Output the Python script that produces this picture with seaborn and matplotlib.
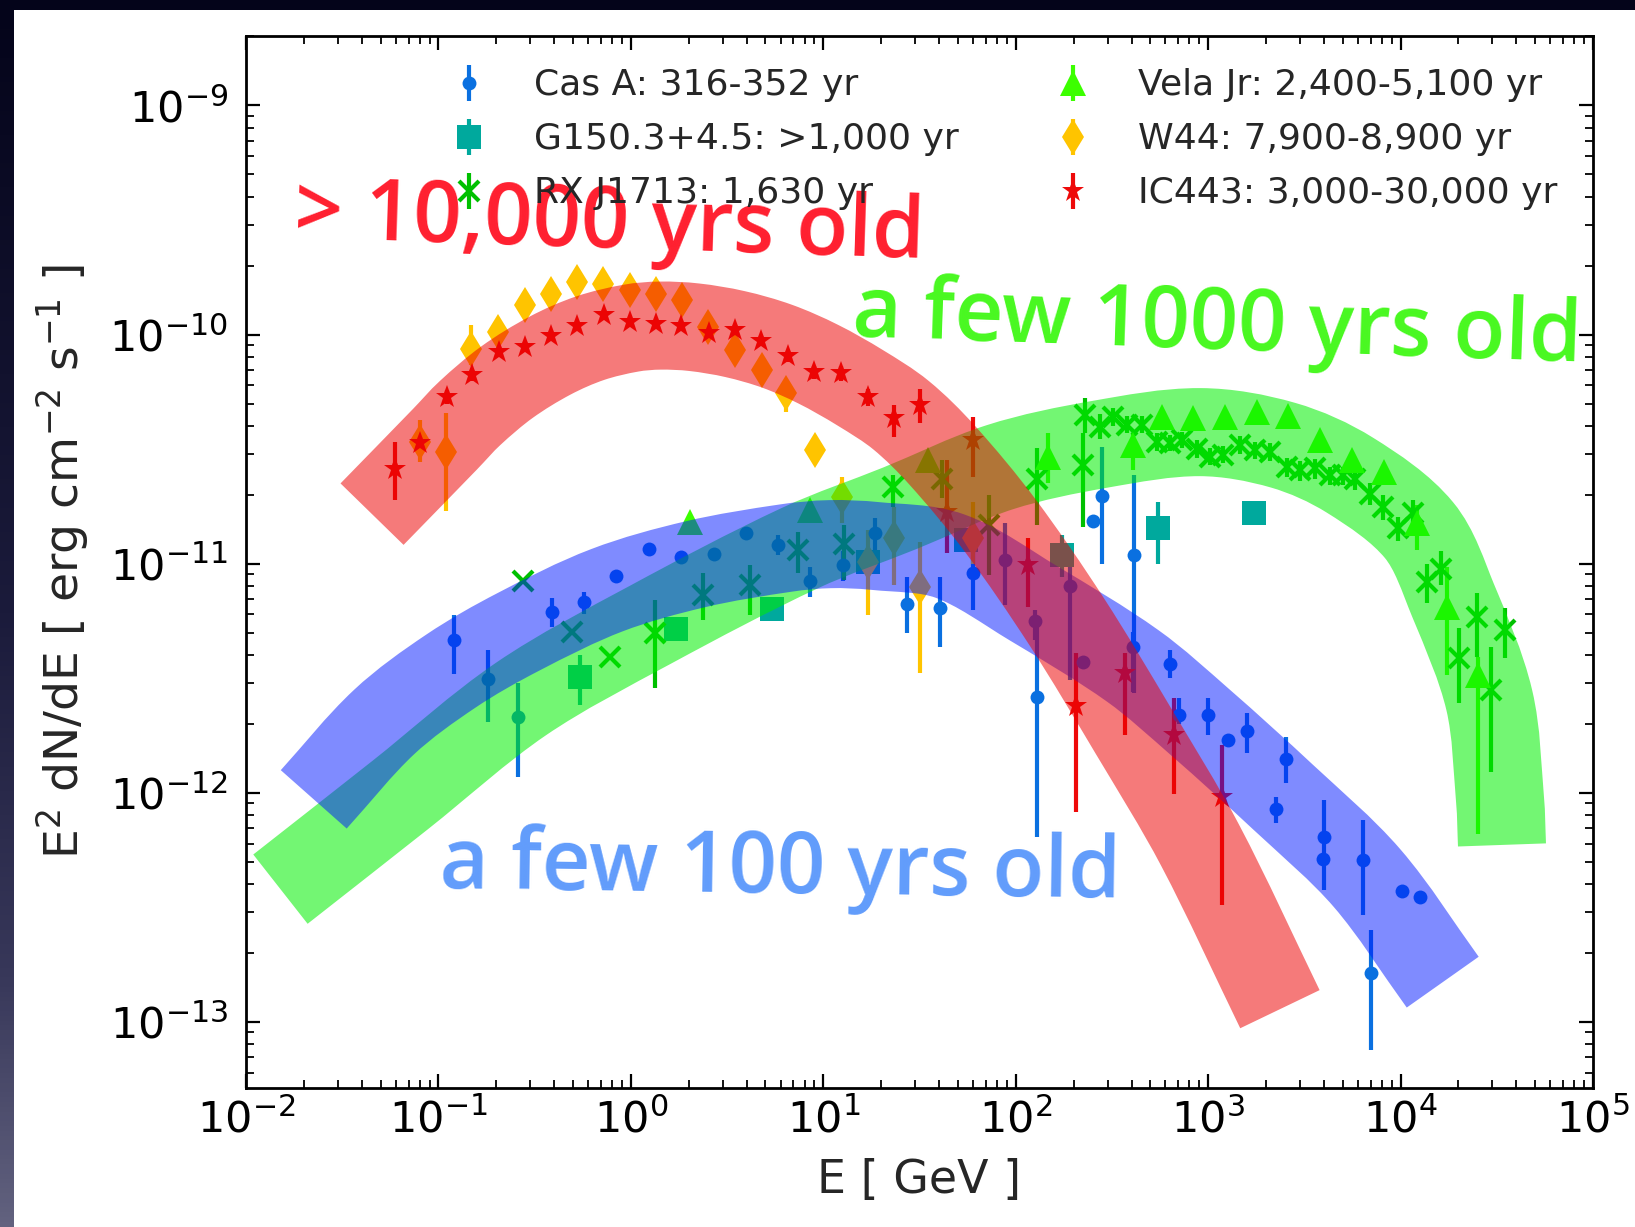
import numpy as np
import matplotlib
matplotlib.use("Agg")
import matplotlib.pyplot as plt
import seaborn as sns
from matplotlib.colors import LinearSegmentedColormap
from matplotlib.patches import Rectangle, PathPatch
from matplotlib.path import Path
from matplotlib.ticker import LogLocator, NullFormatter, FixedLocator

# ---------------- gamma-ray SEDs (E in GeV, E^2 dN/dE in erg cm^-2 s^-1) ----------------
casa_E = [0.120, 0.180, 0.259, 0.388, 0.570, 0.838, 1.24, 1.82, 2.72, 3.98,
          5.82, 8.57, 12.7, 18.6, 27.3, 40.3, 59.7, 88.0, 126, 129,
          191, 224, 251, 281, 408, 413, 634, 708, 1002, 1264,
          1585, 2249, 2528, 3972, 3999, 6350, 6998, 10140, 12620]
casa_F = [4.63e-12, 3.13e-12, 2.13e-12, 6.12e-12, 6.78e-12, 8.81e-12, 1.16e-11, 1.07e-11, 1.10e-11, 1.36e-11,
          1.21e-11, 8.39e-12, 9.85e-12, 1.36e-11, 6.65e-12, 6.37e-12, 9.12e-12, 1.04e-11, 5.62e-12, 2.62e-12,
          7.98e-12, 3.72e-12, 1.54e-11, 1.97e-11, 4.34e-12, 1.09e-11, 3.66e-12, 2.18e-12, 2.18e-12, 1.70e-12,
          1.85e-12, 8.53e-13, 1.41e-12, 5.12e-13, 6.38e-13, 5.08e-13, 1.64e-13, 3.73e-13, 3.49e-13]
casa_lo = [3.29e-12, 2.04e-12, 1.17e-12, 5.30e-12, 6.05e-12, 8.81e-12, 1.16e-11, 1.07e-11, 1.10e-11, 1.36e-11,
           1.09e-11, 7.16e-12, 8.40e-12, 1.15e-11, 4.96e-12, 4.34e-12, 6.28e-12, 6.59e-12, 4.62e-12, 6.38e-13,
           3.10e-12, 3.72e-12, 1.54e-11, 1.00e-11, 2.75e-12, 2.72e-12, 3.16e-12, 2.00e-12, 1.79e-12, 1.70e-12,
           1.49e-12, 7.39e-13, 1.10e-12, 4.80e-13, 3.76e-13, 2.92e-13, 7.53e-14, 3.73e-13, 3.49e-13]
casa_hi = [5.96e-12, 4.19e-12, 3.01e-12, 7.08e-12, 7.53e-12, 8.81e-12, 1.16e-11, 1.07e-11, 1.10e-11, 1.36e-11,
           1.33e-11, 9.69e-12, 1.14e-11, 1.58e-11, 8.75e-12, 8.75e-12, 1.15e-11, 1.50e-11, 6.27e-12, 5.28e-12,
           1.00e-11, 3.72e-12, 1.54e-11, 3.24e-11, 5.03e-12, 2.43e-11, 4.19e-12, 2.58e-12, 2.59e-12, 1.70e-12,
           2.22e-12, 9.59e-13, 1.75e-12, 5.40e-13, 9.29e-13, 7.59e-13, 2.52e-13, 3.73e-13, 3.49e-13]

g150_E = [0.541, 1.72, 5.43, 17.1, 54.9, 173, 551, 1730]
g150_F = [3.21e-12, 5.18e-12, 6.31e-12, 1.02e-11, 1.27e-11, 1.09e-11, 1.43e-11, 1.66e-11]
g150_lo = [2.41e-12, 5.18e-12, 6.31e-12, 1.02e-11, 1.27e-11, 8.75e-12, 1.00e-11, 1.66e-11]
g150_hi = [3.99e-12, 5.18e-12, 6.31e-12, 1.02e-11, 1.27e-11, 1.33e-11, 1.86e-11, 1.66e-11]

rxj_E = [0.276, 0.495, 0.781, 1.33, 2.37, 4.16, 7.41, 12.8, 23.1, 41.2,
         72.6, 128.5, 224, 229, 274, 321, 380, 452, 541, 634,
         729, 872, 1022, 1199, 1465, 1753, 2096, 2557, 3000, 3590,
         4300, 5040, 5800, 6935, 8130, 9720, 11640, 13680, 16250, 20140,
         24850, 29380, 35080]
rxj_F = [8.41e-12, 5.04e-12, 3.92e-12, 4.99e-12, 7.30e-12, 8.05e-12, 1.15e-11, 1.22e-11, 2.16e-11, 2.35e-11,
         1.47e-11, 2.35e-11, 2.69e-11, 4.45e-11, 3.95e-11, 4.38e-11, 4.02e-11, 4.02e-11, 3.40e-11, 3.35e-11,
         3.46e-11, 3.18e-11, 2.93e-11, 2.98e-11, 3.29e-11, 3.13e-11, 3.08e-11, 2.65e-11, 2.56e-11, 2.61e-11,
         2.43e-11, 2.43e-11, 2.35e-11, 2.02e-11, 1.77e-11, 1.43e-11, 1.66e-11, 8.34e-12, 9.52e-12, 3.86e-12,
         5.86e-12, 2.81e-12, 5.13e-12]
rxj_lo = [8.41e-12, 5.04e-12, 3.92e-12, 2.87e-12, 5.68e-12, 5.96e-12, 9.10e-12, 8.47e-12, 1.77e-11, 1.93e-11,
          8.90e-12, 1.47e-11, 1.44e-11, 3.72e-11, 3.50e-11, 4.00e-11, 3.70e-11, 3.70e-11, 3.10e-11, 3.10e-11,
          3.20e-11, 2.90e-11, 2.70e-11, 2.75e-11, 3.00e-11, 2.85e-11, 2.80e-11, 2.40e-11, 2.30e-11, 2.35e-11,
          2.20e-11, 2.20e-11, 2.10e-11, 1.80e-11, 1.55e-11, 1.25e-11, 1.45e-11, 6.70e-12, 8.05e-12, 2.46e-12,
          3.91e-12, 1.23e-12, 3.87e-12]
rxj_hi = [8.41e-12, 5.04e-12, 3.92e-12, 6.93e-12, 9.10e-12, 9.86e-12, 1.38e-11, 1.47e-11, 2.43e-11, 2.83e-11,
          1.99e-11, 3.19e-11, 3.72e-11, 5.27e-11, 4.50e-11, 4.80e-11, 4.40e-11, 4.40e-11, 3.70e-11, 3.65e-11,
          3.75e-11, 3.45e-11, 3.20e-11, 3.25e-11, 3.60e-11, 3.40e-11, 3.35e-11, 2.90e-11, 2.80e-11, 2.85e-11,
          2.65e-11, 2.65e-11, 2.60e-11, 2.25e-11, 2.00e-11, 1.60e-11, 1.90e-11, 1.00e-11, 1.13e-11, 5.22e-12,
          7.43e-12, 4.34e-12, 6.40e-12]

vela_E = [2.04, 8.57, 35.2, 148, 408, 574, 830, 1224, 1787, 2612, 3816, 5576, 8210, 12130, 17380, 25350]
vela_F = [1.52e-11, 1.71e-11, 2.83e-11, 2.92e-11, 3.29e-11, 4.38e-11, 4.31e-11, 4.38e-11, 4.60e-11, 4.41e-11,
          3.46e-11, 2.83e-11, 2.52e-11, 1.50e-11, 6.47e-12, 3.26e-12]
vela_lo = [1.52e-11, 1.71e-11, 2.83e-11, 2.25e-11, 2.56e-11, 4.38e-11, 4.31e-11, 4.38e-11, 4.60e-11, 4.41e-11,
           3.46e-11, 2.83e-11, 2.52e-11, 1.15e-11, 3.26e-12, 6.59e-13]
vela_hi = [1.52e-11, 1.71e-11, 2.83e-11, 3.72e-11, 3.72e-11, 4.38e-11, 4.31e-11, 4.38e-11, 4.60e-11, 4.41e-11,
           3.46e-11, 2.83e-11, 2.52e-11, 1.80e-11, 9.68e-12, 3.92e-12]

w44_E = [0.0803, 0.109, 0.147, 0.205, 0.283, 0.384, 0.524, 0.714, 0.99, 1.35,
         1.85, 2.53, 3.49, 4.78, 6.40, 9.06, 12.5, 17.1, 23.3, 31.9, 60.3]
w44_F = [3.40e-11, 3.08e-11, 8.69e-11, 1.03e-10, 1.34e-10, 1.51e-10, 1.70e-10, 1.67e-10, 1.56e-10, 1.51e-10,
         1.41e-10, 1.08e-10, 8.55e-11, 7.00e-11, 5.53e-11, 3.13e-11, 1.96e-11, 1.02e-11, 1.29e-11, 7.92e-12, 1.29e-11]
w44_lo = [2.78e-11, 1.69e-11, 7.36e-11, 1.03e-10, 1.34e-10, 1.51e-10, 1.70e-10, 1.67e-10, 1.56e-10, 1.51e-10,
          1.41e-10, 1.08e-10, 8.55e-11, 7.00e-11, 4.60e-11, 3.13e-11, 1.50e-11, 5.96e-12, 8.05e-12, 3.32e-12, 1.00e-11]
w44_hi = [4.23e-11, 4.54e-11, 1.10e-10, 1.03e-10, 1.34e-10, 1.51e-10, 1.70e-10, 1.67e-10, 1.56e-10, 1.51e-10,
          1.41e-10, 1.08e-10, 8.55e-11, 7.00e-11, 5.53e-11, 3.13e-11, 2.39e-11, 1.40e-11, 1.77e-11, 1.24e-11, 1.86e-11]

ic443_E = [0.0597, 0.0804, 0.111, 0.150, 0.206, 0.281, 0.384, 0.525, 0.725, 0.985,
           1.35, 1.83, 2.55, 3.49, 4.75, 6.56, 8.96, 12.4, 17.1, 23.2,
           32.0, 44.0, 60.0, 116, 206, 370, 665, 1180]
ic443_F = [2.60e-11, 3.35e-11, 5.35e-11, 6.65e-11, 8.40e-11, 8.83e-11, 9.83e-11, 1.09e-10, 1.22e-10, 1.13e-10,
           1.11e-10, 1.09e-10, 1.02e-10, 1.05e-10, 9.40e-11, 8.05e-11, 6.87e-11, 6.81e-11, 5.35e-11, 4.31e-11,
           4.92e-11, 1.68e-11, 3.46e-11, 9.85e-12, 2.39e-12, 3.33e-12, 1.78e-12, 9.57e-13]
ic443_lo = [1.90e-11, 3.10e-11, 5.00e-11, 6.30e-11, 8.00e-11, 8.40e-11, 9.40e-11, 1.04e-10, 1.16e-10, 1.08e-10,
            1.06e-10, 1.04e-10, 9.70e-11, 1.00e-10, 8.90e-11, 7.60e-11, 6.40e-11, 6.30e-11, 4.90e-11, 3.56e-11,
            4.10e-11, 1.11e-11, 2.38e-11, 6.45e-12, 8.20e-13, 1.79e-12, 9.90e-13, 3.23e-13]
ic443_hi = [3.40e-11, 3.60e-11, 5.70e-11, 7.00e-11, 8.80e-11, 9.30e-11, 1.03e-10, 1.14e-10, 1.28e-10, 1.18e-10,
            1.16e-10, 1.14e-10, 1.07e-10, 1.10e-10, 9.90e-11, 8.50e-11, 7.30e-11, 7.30e-11, 5.80e-11, 4.92e-11,
            5.78e-11, 2.83e-11, 4.36e-11, 1.29e-11, 4.07e-12, 4.07e-12, 2.58e-12, 1.61e-12]

labels = ["Cas A: 316-352 yr", "G150.3+4.5: >1,000 yr", "RX J1713: 1,630 yr",
          "Vela Jr: 2,400-5,100 yr", "W44: 7,900-8,900 yr", "IC443: 3,000-30,000 yr"]

x_major = [1e-2, 1e-1, 1e0, 1e1, 1e2, 1e3, 1e4, 1e5]
y_major = [1e-13, 1e-12, 1e-11, 1e-10, 1e-9]

# age-class bands: centre lines as (log10 E, log10 E^2dN/dE)
band_old_logE = [-1.345, -0.966, -0.836, -0.644, -0.420, -0.212, 0.001, 0.151, 0.328, 0.541,
                 0.760, 0.973, 1.191, 1.404, 1.617, 1.918, 2.266, 2.609, 2.958, 3.373]
band_old_logF = [-10.784, -10.457, -10.343, -10.208, -10.092, -10.016, -9.972, -9.961, -9.968, -9.998,
                 -10.051, -10.129, -10.232, -10.352, -10.526, -10.832, -11.255, -11.727, -12.229, -12.945]
band_young_logE = [-1.648, -1.283, -0.935, -0.587, -0.124, 0.339, 0.806, 1.035, 1.269, 1.658,
                   2.090, 2.609, 2.958, 3.389, 3.826, 4.219]
band_young_logF = [-12.029, -11.692, -11.469, -11.299, -11.116, -11.002, -10.932, -10.915, -10.923, -10.967,
                   -11.172, -11.447, -11.692, -12.019, -12.373, -12.827]
band_mid_logE = [-1.821, -1.200, -0.571, 0.099, 0.879, 1.399, 1.918, 2.438, 2.958, 3.389,
                 3.737, 4.096, 4.272, 4.461, 4.517, 4.527]
band_mid_logF = [-12.421, -12.011, -11.591, -11.268, -10.932, -10.758, -10.579, -10.479, -10.426, -10.483,
                 -10.614, -10.854, -11.159, -11.596, -12.032, -12.228]

# ---------------- style ----------------
sns.set_style("ticks")
plt.rcParams["font.family"] = ["DejaVu Sans"]
plt.rcParams["mathtext.fontset"] = "dejavusans"

W, H = 1635, 1227
fig = plt.figure(figsize=(W / 100, H / 100), dpi=100, facecolor="#10102a")

# slide background: vertical navy gradient with a white panel
slide = LinearSegmentedColormap.from_list(
    "slide", [(0, "#04041a"), (0.5, "#1b1b3b"), (0.8, "#38385a"), (1, "#62627f")])
grad = np.repeat(np.linspace(0, 1, H)[:, None], W, axis=1)
fig.figimage(grad, xo=0, yo=0, cmap=slide, origin="upper", zorder=-3)
fig.add_artist(Rectangle((14 / W, 0), 1, 1 - 10 / H, transform=fig.transFigure,
                         facecolor="white", edgecolor="none", zorder=-2))

ax = fig.add_axes([246 / W, 1 - 1088 / H, 1347 / W, 1052 / H])
ax.set_facecolor("white")
ax.set_xscale("log")
ax.set_yscale("log")
ax.set_xlim(1e-2, 1e5)
ax.set_ylim(5.14e-14, 2.01e-9)


def sed(E, F, lo, hi, fmt, color, label, ms, mew=0.0):
    E = np.asarray(E)
    F = np.asarray(F)
    yerr = [F - np.asarray(lo), np.asarray(hi) - F]
    return ax.errorbar(E, F, yerr=yerr, fmt=fmt, color=color, ms=ms, mew=mew,
                       elinewidth=3, capsize=0, label=label, zorder=2)


h_casa = sed(casa_E, casa_F, casa_lo, casa_hi, "o", "#0a70e0", labels[0], 10)
h_g150 = sed(g150_E, g150_F, g150_lo, g150_hi, "s", "#00a99d", labels[1], 17)
h_rxj = sed(rxj_E, rxj_F, rxj_lo, rxj_hi, "x", "#00c000", labels[2], 14, mew=3)
h_vela = sed(vela_E, vela_F, vela_lo, vela_hi, "^", "#3cff00", labels[3], 19)
h_w44 = sed(w44_E, w44_F, w44_lo, w44_hi, "d", "#ffc400", labels[4], 18)
h_ic = sed(ic443_E, ic443_F, ic443_lo, ic443_hi, "*", "#ee0a0a", labels[5], 17)


def band_path(logE, logF):
    """Smooth (chord-length Catmull-Rom) Bezier path through a band's centre points."""
    Q = ax.transData.transform(np.column_stack([10 ** np.asarray(logE), 10 ** np.asarray(logF)]))
    n = len(Q)
    t = np.concatenate([[0.0], np.cumsum(np.hypot(*np.diff(Q, axis=0).T))])
    m = np.empty_like(Q)
    m[0] = (Q[1] - Q[0]) / (t[1] - t[0])
    m[-1] = (Q[-1] - Q[-2]) / (t[-1] - t[-2])
    for i in range(1, n - 1):
        m[i] = (Q[i + 1] - Q[i - 1]) / (t[i + 1] - t[i - 1])
    verts = [Q[0]]
    codes = [Path.MOVETO]
    for i in range(n - 1):
        dt = t[i + 1] - t[i]
        verts += [Q[i] + m[i] * dt / 3, Q[i + 1] - m[i + 1] * dt / 3, Q[i + 1]]
        codes += [Path.CURVE4] * 3
    return Path(ax.transData.inverted().transform(np.asarray(verts)), codes)


# translucent age bands drawn over the data
for lx, ly, col, alp in [(band_mid_logE, band_mid_logF, "#00f000", 0.55),
                         (band_young_logE, band_young_logF, "#0018ff", 0.50),
                         (band_old_logE, band_old_logF, "#ec0000", 0.52)]:
    ax.add_patch(PathPatch(band_path(lx, ly), facecolor="none", edgecolor=col, alpha=alp,
                           linewidth=63.4, capstyle="butt", joinstyle="round", zorder=3))

ax.xaxis.set_major_locator(FixedLocator(x_major))
ax.yaxis.set_major_locator(FixedLocator(y_major))
for axis in (ax.xaxis, ax.yaxis):
    axis.set_minor_locator(LogLocator(base=10, subs=np.arange(2, 10), numticks=20))
    axis.set_minor_formatter(NullFormatter())
ax.tick_params(which="both", direction="in", top=True, right=True, bottom=True, left=True,
               colors="black")
ax.tick_params(which="major", length=10, width=1.6, labelsize=31)
ax.tick_params(axis="y", which="major", pad=13)
ax.tick_params(axis="x", which="major", pad=8)
ax.tick_params(which="minor", length=5.5, width=1.3)
for sp in ax.spines.values():
    sp.set_linewidth(2)
    sp.set_color("black")

ax.set_xlabel("E [ GeV ]", fontsize=33, labelpad=12)
ax.set_ylabel(r"E$^2$ dN/dE [ erg cm$^{-2}$ s$^{-1}$ ]", fontsize=34, labelpad=13)

ax.legend(handles=[h_casa, h_g150, h_rxj, h_vela, h_w44, h_ic], labels=labels, ncol=2,
          loc="upper left", bbox_to_anchor=(433 / W, 1 - 68.5 / H), bbox_transform=fig.transFigure,
          frameon=False, fontsize=26, handlelength=2.0, handletextpad=0.8, columnspacing=2.15,
          labelspacing=0.55, borderpad=0, borderaxespad=0)

txt = dict(transform=fig.transFigure, ha="center", va="baseline", rotation_mode="anchor",
           family=["Open Sans", "DejaVu Sans"], fontweight="semibold", zorder=4)
ax.text(609 / W, 1 - 247 / H, "> 10,000 yrs old", fontsize=61, color="#ff1f2f", rotation=-1.9, **txt)
ax.text(1216 / W, 1 - 349 / H, "a few 1000 yrs old", fontsize=61, color="#48f820", rotation=-2.0, **txt)
ax.text(780 / W, 1 - 893 / H, "a few 100 yrs old", fontsize=61, color="#619cfb", rotation=-0.8, **txt)

fig.savefig("out.png", dpi=100, facecolor=fig.get_facecolor())
